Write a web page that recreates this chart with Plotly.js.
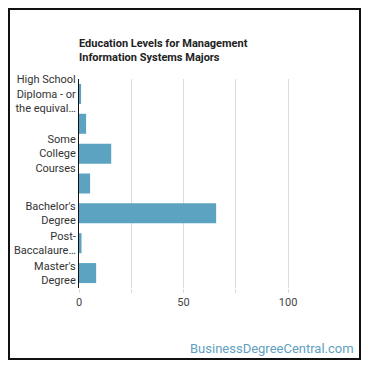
<!DOCTYPE html>
<html>
<head>
<meta charset="utf-8">
<script src="https://cdn.plot.ly/plotly-3.0.1.min.js"></script>
<style>
  html, body { margin: 0; padding: 0; background: #fff; }
  #wrap { position: relative; width: 370px; height: 370px; }
  #chart { position: absolute; left: 0; top: 0; width: 370px; height: 370px; }
  #frame { position: absolute; left: 8px; top: 8px; width: 349px; height: 348px; border: 2px solid #111; pointer-events: none; }
</style>
</head>
<body>
<div id="wrap">
  <div id="chart"></div>
  <div id="frame"></div>
</div>
<script>
const categories = [
  "High School Diploma - or the equivalent (for example, GED)",
  "Post-Secondary Certificate",
  "Some College Courses",
  "Associate's Degree (or other 2-year degree)",
  "Bachelor's Degree",
  "Post-Baccalaureate Certificate",
  "Master's Degree"
];
const categoryLabels = [
  "High School<br>Diploma - or<br>the equival…",
  "",
  "Some<br>College<br>Courses",
  "",
  "Bachelor's<br>Degree",
  "Post-<br>Baccalaure…",
  "Master's<br>Degree"
];
const percentages = [1.0, 3.4, 15.4, 5.3, 65.6, 1.2, 8.2];
const xTickValues = [0, 25, 50, 75, 100];
const xTickLabels = ["0", "", "50", "", "100"];

const trace = {
  type: "bar",
  orientation: "h",
  y: categories,
  x: percentages,
  marker: { color: "#5ba3c1" },
  hoverinfo: "x+y"
};

const layout = {
  width: 370,
  height: 370,
  margin: { l: 79, r: 61, t: 79, b: 82 },
  paper_bgcolor: "rgba(0,0,0,0)",
  plot_bgcolor: "#fff",
  font: { family: "Roboto, 'Open Sans', sans-serif", size: 11, color: "#333" },
  bargap: 0.33,
  showlegend: false,
  title: {
    text: "<b>Education Levels for Management<br>Information Systems Majors</b>",
    font: { family: "Roboto, sans-serif", size: 11, color: "#222" },
    xref: "paper", x: 0, xanchor: "left",
    yref: "container", y: 1 - 47 / 370, yanchor: "middle"
  },
  xaxis: {
    range: [0, 110],
    tickvals: xTickValues,
    ticktext: xTickLabels,
    showgrid: true,
    gridcolor: "#dcdcdc",
    gridwidth: 1,
    zeroline: false,
    showline: false,
    ticks: "outside",
    ticklen: 4,
    tickcolor: "#dcdcdc",
    tickfont: { size: 11, color: "#444" },
    fixedrange: true
  },
  yaxis: {
    autorange: "reversed",
    tickvals: categories,
    ticktext: categoryLabels,
    showgrid: false,
    zeroline: false,
    showline: true,
    linecolor: "#111",
    linewidth: 1,
    ticks: "",
    tickfont: { size: 11, color: "#333" },
    fixedrange: true
  },
  annotations: [{
    text: "BusinessDegreeCentral.com",
    xref: "paper", yref: "paper",
    x: (356 - 79) / 230, y: (288 - 348) / 209,
    xanchor: "right", yanchor: "middle",
    showarrow: false,
    font: { family: "Roboto, sans-serif", size: 13, color: "#5f9fc0" }
  }]
};

Plotly.newPlot("chart", [trace], layout, { displayModeBar: false, staticPlot: true });
</script>
</body>
</html>
